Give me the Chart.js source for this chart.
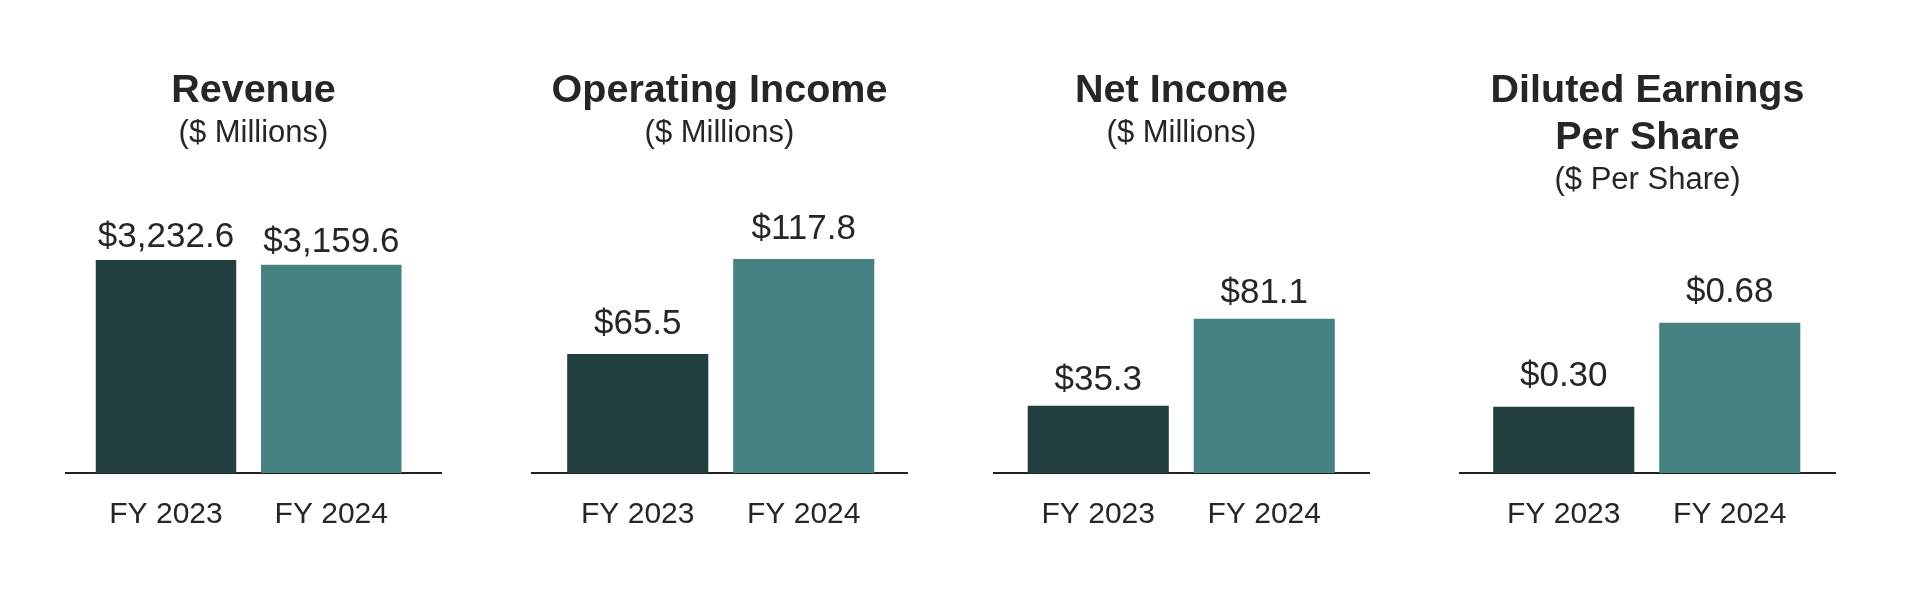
<!DOCTYPE html>
<html>
<head>
<meta charset="utf-8">
<script src="https://cdn.jsdelivr.net/npm/chart.js@4.4.1/dist/chart.umd.min.js"></script>
<style>
  html, body { margin: 0; padding: 0; background: #fff; }
  body { width: 1920px; height: 592px; position: relative; overflow: hidden; }
  canvas { position: absolute; top: 0; }
</style>
</head>
<body>
<canvas id="revenue" width="455" height="592" style="left:26px"></canvas>
<canvas id="operating" width="455" height="592" style="left:492px"></canvas>
<canvas id="net" width="455" height="592" style="left:954px"></canvas>
<canvas id="eps" width="455" height="592" style="left:1420px"></canvas>
<script>
const years = ['FY 2023', 'FY 2024'];
const revenue = [3232.6, 3159.6];
const operatingIncome = [65.5, 117.8];
const netIncome = [35.3, 81.1];
const dilutedEps = [0.30, 0.68];
const barColors = ['#223F3F', '#478282'];

const FONT = '"Liberation Sans", Arial, Helvetica, sans-serif';
const TEXT = '#262626';
Chart.defaults.font.family = FONT;
Chart.defaults.color = TEXT;

// draws "$x" above each bar
const valueLabels = {
    id: 'valueLabels',
    afterDatasetsDraw(chart, args, opts) {
        const ctx = chart.ctx;
        const meta = chart.getDatasetMeta(0);
        const points = chart.data.datasets[0].data;
        ctx.save();
        ctx.font = '35px ' + FONT;
        ctx.fillStyle = TEXT;
        ctx.textAlign = 'center';
        ctx.textBaseline = 'alphabetic';
        meta.data.forEach((bar, i) => {
            const v = points[i].y;
            const txt = '$' + v.toLocaleString('en-US', {
                minimumFractionDigits: opts.decimals,
                maximumFractionDigits: opts.decimals
            });
            ctx.fillText(txt, bar.x, bar.y - opts.gap);
        });
        ctx.restore();
    }
};

function makePanel(id, title, subtitle, values, p) {
    const ctx = document.getElementById(id).getContext('2d');
    return new Chart(ctx, {
        type: 'bar',
        data: {
            datasets: [{
                data: values.map((v, i) => ({ x: i, y: v })),
                backgroundColor: barColors,
                borderWidth: 0,
                barPercentage: 0.85,
                categoryPercentage: 1
            }]
        },
        options: {
            responsive: false,
            animation: false,
            layout: { padding: { left: 40, right: 40, top: 0, bottom: 0 } },
            plugins: {
                legend: { display: false },
                tooltip: { enabled: false },
                title: {
                    display: true,
                    text: title,
                    color: TEXT,
                    font: { size: 39.5, weight: 'bold', lineHeight: 1.2 },
                    padding: { top: 67, bottom: 0 }
                },
                subtitle: {
                    display: true,
                    text: subtitle,
                    color: TEXT,
                    font: { size: 31, lineHeight: 1.2 },
                    padding: { top: 0, bottom: 0 }
                },
                valueLabels: { decimals: p.decimals, gap: p.gap }
            },
            scales: {
                x: {
                    type: 'linear',
                    offset: false,
                    min: p.xMin,
                    max: p.xMax,
                    grid: { display: false, drawTicks: false, offset: false },
                    border: { display: true, color: '#222', width: 2 },
                    afterBuildTicks: (scale) => { scale.ticks = years.map((y, i) => ({ value: i })); },
                    afterFit: (scale) => { scale.height = 119; },
                    ticks: {
                        color: TEXT,
                        font: { size: 30 },
                        padding: 24,
                        maxRotation: 0,
                        autoSkip: false,
                        callback: (v) => years[v]
                    }
                },
                y: {
                    display: false,
                    min: 0,
                    max: p.yMax
                }
            }
        },
        plugins: [valueLabels]
    });
}

makePanel('revenue', 'Revenue', '($ Millions)', revenue,
    { decimals: 1, gap: 13, yMax: 4875, xMin: -0.605, xMax: 1.664 });
makePanel('operating', 'Operating Income', '($ Millions)', operatingIncome,
    { decimals: 1, gap: 20, yMax: 176.9, xMin: -0.637, xMax: 1.622 });
makePanel('net', 'Net Income', '($ Millions)', netIncome,
    { decimals: 1, gap: 16, yMax: 169.0, xMin: -0.628, xMax: 1.631 });
makePanel('eps', ['Diluted Earnings', 'Per Share'], '($ Per Share)', dilutedEps,
    { decimals: 2, gap: 21, yMax: 1.240, xMin: -0.625, xMax: 1.634 });
</script>
</body>
</html>
